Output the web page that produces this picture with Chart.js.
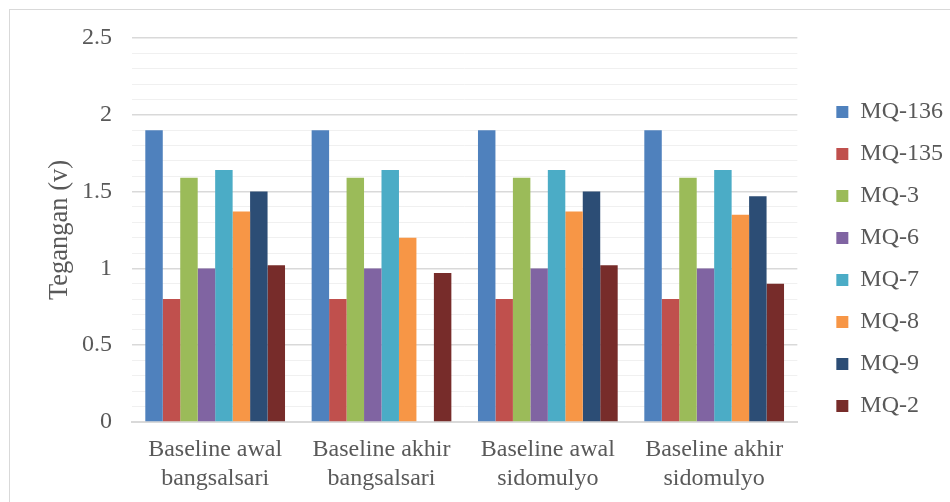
<!DOCTYPE html>
<html lang="id">
<head>
  <meta charset="UTF-8" />
  <title>Tegangan baseline sensor MQ</title>
  <script src="https://cdn.jsdelivr.net/npm/chart.js"></script>
  <style>
    html, body {
      margin: 0;
      padding: 0;
      background: #fff;
      overflow: hidden;
    }

    #wrap {
      position: relative;
      width: 950px;
      height: 502px;
    }

    #frame {
      position: absolute;
      left: 9px;
      top: 9px;
      width: 960px;
      height: 520px;
      border-top: 1px solid #d9d9d9;
      border-left: 1px solid #d9d9d9;
    }

    canvas {
      position: absolute;
      left: 0;
      top: 0;
    }
  </style>
</head>
<body>
  <div id="wrap">
    <div id="frame"></div>
    <canvas id="mqChart"></canvas>
  </div>

  <script>
    // data
    const categories = [
      ["Baseline awal", "bangsalsari"],
      ["Baseline akhir", "bangsalsari"],
      ["Baseline awal", "sidomulyo"],
      ["Baseline akhir", "sidomulyo"],
    ];
    const seriesNames = ["MQ-136", "MQ-135", "MQ-3", "MQ-6", "MQ-7", "MQ-8", "MQ-9", "MQ-2"];
    const seriesColors = ["#4F81BD", "#C0504D", "#9BBB59", "#8064A2", "#4BACC6", "#F79646", "#2C4D75", "#772C2A"];

    const mq136 = [1.9, 1.9, 1.9, 1.9];
    const mq135 = [0.8, 0.8, 0.8, 0.8];
    const mq3 = [1.59, 1.59, 1.59, 1.59];
    const mq6 = [1.0, 1.0, 1.0, 1.0];
    const mq7 = [1.64, 1.64, 1.64, 1.64];
    const mq8 = [1.37, 1.2, 1.37, 1.35];
    const mq9 = [1.5, null, 1.5, 1.47];
    const mq2 = [1.02, 0.97, 1.02, 0.9];
    const seriesValues = [mq136, mq135, mq3, mq6, mq7, mq8, mq9, mq2];

    const yTicks = [0, 0.5, 1, 1.5, 2, 2.5];

    const FONT = "'Liberation Serif', 'Times New Roman', serif";
    const TEXT = "#595959";

    const isMajor = v => yTicks.some(t => Math.abs(t - v) < 1e-6);

    // geser legenda supaya sama dengan gambar
    const legendShift = {
      id: "legendShift",
      afterLayout(chart) {
        const lg = chart.legend;
        if (!lg) return;
        lg.left += 21; lg.right += 21;
        lg.top -= 6; lg.bottom -= 6;
      }
    };

    new Chart(document.getElementById("mqChart"), {
      type: "bar",
      data: {
        labels: categories,
        datasets: seriesNames.map((name, i) => ({
          label: name,
          data: seriesValues[i],
          backgroundColor: seriesColors[i],
          borderWidth: 0,
          categoryPercentage: 0.84,
          barPercentage: 1.0,
        })),
      },
      options: {
        responsive: true,
        maintainAspectRatio: false,
        animation: false,
        layout: { padding: { left: 10, top: 38, right: 18, bottom: 10 } },
        plugins: {
          tooltip: { enabled: false },
          legend: {
            position: "right",
            labels: {
              boxWidth: 12,
              boxHeight: 12,
              padding: 18,
              color: TEXT,
              font: { family: FONT, size: 24 },
            },
          },
        },
        scales: {
          x: {
            grid: { display: false, drawTicks: false },
            border: { display: true, color: "#d9d9d9", width: 2 },
            ticks: {
              color: TEXT,
              padding: 13,
              maxRotation: 0,
              autoSkip: false,
              font: { family: FONT, size: 24, lineHeight: 1.21 },
            },
            afterFit(scale) { scale.height = 70; },
          },
          y: {
            min: 0,
            max: 2.5,
            border: { display: false },
            grid: {
              drawTicks: false,
              color: ctx => isMajor(ctx.tick.value) ? "#d9d9d9" : "#f0f0f0",
              lineWidth: ctx => isMajor(ctx.tick.value) ? 1.5 : 1,
            },
            ticks: {
              stepSize: 0.1,
              autoSkip: false,
              padding: 20,
              color: TEXT,
              font: { family: FONT, size: 24 },
              callback: v => isMajor(v) ? String(Math.round(v * 10) / 10) : "",
            },
            title: {
              display: true,
              text: "Tegangan (v)",
              color: TEXT,
              padding: { top: 34, bottom: 0 },
              font: { family: FONT, size: 26.5 },
            },
            afterFit(scale) { scale.width = 122; },
          },
        },
      },
      plugins: [legendShift],
    });
  </script>
</body>
</html>
